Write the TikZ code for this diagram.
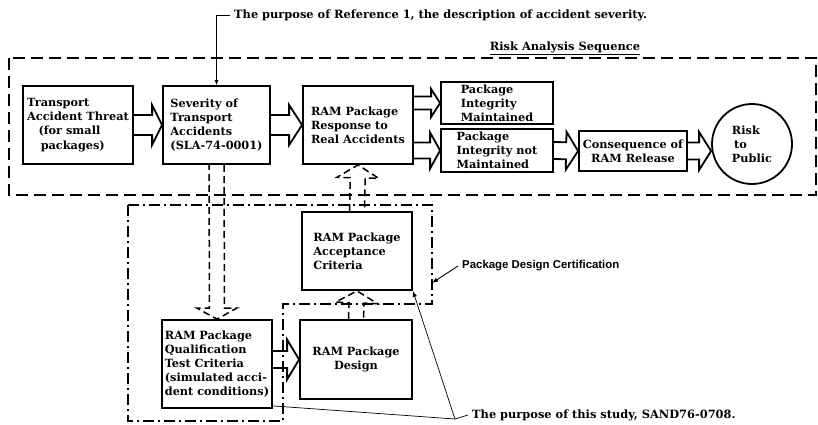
\documentclass[tikz,border=0pt]{standalone}
\usepackage{fontspec}
\setmainfont{DejaVu Serif}
\newfontfamily\labelfont{Liberation Sans}
\usetikzlibrary{arrows.meta, positioning, calc}

% hollow block arrow: options, from, tip, half shaft, half head, head length
\newcommand{\fatarrow}[6][]{%
  \path ($(#3)!#6!(#2)$) coordinate (fa-b);
  \draw[#1] ($(#2)!#4!90:(#3)$) -- ($(fa-b)!#4!90:(#3)$) -- ($(fa-b)!#5!90:(#3)$) -- (#3)
    -- ($(fa-b)!#5!-90:(#3)$) -- ($(fa-b)!#4!-90:(#3)$) -- ($(#2)!#4!-90:(#3)$);}

\begin{document}
\begin{tikzpicture}[x=1pt, y=-1pt, line width=1.8pt,
  box/.style={draw, rectangle, inner sep=0pt, align=left, font=\fontsize{11.3}{14.2}\selectfont\bfseries},
  riskline/.style={dash pattern=on 12pt off 6pt},
  certline/.style={dash pattern=on 11pt off 4pt on 2pt off 4pt},
  dashedarrow/.style={line width=1.5pt, dash pattern=on 7pt off 4pt},
  note/.style={font=\fontsize{11.4}{13}\selectfont\bfseries, anchor=west}]
  \useasboundingbox (0,0) rectangle (818,424);

  % risk analysis sequence
  \draw[riskline] (9,58) rectangle (816,195);
  \node[note, anchor=south, inner sep=1pt] (seq) at (565,57) {\underline{Risk\ Analysis\ Sequence}};

  \node[box, minimum width=110pt, minimum height=78pt] (threat) at (78,125)
    {Transport\\Accident Threat\\\hspace*{1em}(for small\\\hspace*{1.2em}packages)};
  \node[box, minimum width=107pt, minimum height=78pt] (severity) at (216.5,125)
    {Severity of\\Transport\\Accidents\\(SLA-74-0001)};
  \node[box, minimum width=110pt, minimum height=78pt] (response) at (358,125)
    {RAM Package\\Response to\\Real Accidents};
  \node[box, minimum width=112pt, minimum height=42pt] (maint) at (497,103)
    {Package\\Integrity\\Maintained};
  \node[box, minimum width=112pt, minimum height=43pt] (notmaint) at (497,150.5)
    {Package\\Integrity not\\Maintained};
  \node[box, minimum width=108pt, minimum height=40pt, align=center] (conseq) at (633,151)
    {Consequence of\\RAM Release};
  \node[box, circle, minimum size=80pt] (risk) at (752,144) {Risk\\\hspace*{.2em}to\\Public};

  \fatarrow{threat.east}{severity.west}{10pt}{20pt}{10pt}
  \fatarrow{severity.east}{response.west}{10pt}{20pt}{13pt}
  \coordinate (r1) at (response.east |- maint.west);
  \coordinate (r2) at (response.east |- notmaint.west);
  \fatarrow{r1}{maint.west}{6.5pt}{14pt}{9pt}
  \fatarrow{r2}{notmaint.west}{8pt}{18pt}{10pt}
  \fatarrow{notmaint.east}{conseq.west}{8.5pt}{19pt}{12pt}
  \coordinate (c1) at (risk.west |- conseq.east);
  \fatarrow{conseq.east}{c1}{8.5pt}{19pt}{12pt}

  % package design certification
  \draw[certline] (128,205) -- (432,205) -- (432,304) -- (283,304) -- (283,421) -- (128,421) -- cycle;
  \node[box, minimum width=110pt, minimum height=78pt] (accept) at (357,251)
    {RAM Package\\Acceptance\\Criteria};
  \node[box, minimum width=112pt, minimum height=79pt, align=center] (design) at (356,359.5)
    {RAM Package\\Design};
  \node[box, minimum width=110pt, minimum height=88pt] (qual) at (217,364)
    {RAM Package\\Qualification\\Test Criteria\\(simulated acci-\\dent conditions)};

  \fatarrow[dashedarrow]{severity.south}{qual.north}{7.5pt}{20pt}{11pt}
  \fatarrow[dashedarrow]{accept.north}{response.south}{7.5pt}{21pt}{13pt}
  \fatarrow[dashedarrow]{design.north}{accept.south}{7.5pt}{21pt}{12pt}
  \coordinate (q1) at (qual.east |- design.west);
  \fatarrow{q1}{design.west}{8.5pt}{20pt}{12pt}

  % notes
  \node[note] (ref) at (230,15) {The purpose of Reference 1, the description of accident severity.};
  \draw[-{Latex[length=5pt,width=4pt]}, line width=0.8pt] (ref.west) -| (severity.north);
  \node[font=\labelfont\fontsize{11.4}{13}\selectfont\bfseries, anchor=west] (cert) at (458,266)
    {Package Design Certification};
  \coordinate (certedge) at (432,283);
  \draw[-{Latex[length=6pt]}, line width=0.9pt] (cert.west) -- (certedge);
  \node[note] (study) at (468,415) {The purpose of this study, SAND76-0708.};
  \coordinate (fork) at (455,419);
  \coordinate (qualfoot) at ($(qual.south east)+(0,-3)$);
  \draw[line width=0.7pt] (study.west) -- (fork) -- (qualfoot);
  \draw[-{Latex[length=6pt]}, line width=0.7pt] (fork) -- (accept.south east);
\end{tikzpicture}
\end{document}
